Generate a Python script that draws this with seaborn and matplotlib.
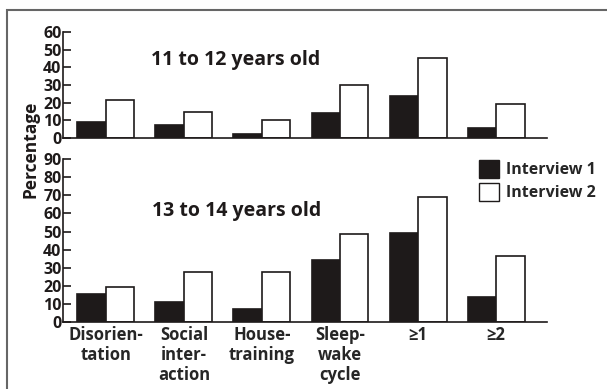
import matplotlib
matplotlib.use("Agg")
import matplotlib.pyplot as plt
import seaborn as sns
import pandas as pd
from matplotlib.patches import Patch, Rectangle

categories = ["Disorien-\ntation", "Social\ninter-\naction", "House-\ntraining", "Sleep-\nwake\ncycle", "\u22651", "\u22652"]
series = ["Interview 1", "Interview 2"]
young_int1 = [9, 7.5, 2.5, 14, 24, 5.5]
young_int2 = [21.5, 15, 10.5, 30, 45, 19]
old_int1 = [15.5, 11, 7, 34.5, 49, 14]
old_int2 = [19.5, 27.5, 27.5, 48.5, 69, 36.5]
young_ticks = [0, 10, 20, 30, 40, 50, 60]
old_ticks = [0, 10, 20, 30, 40, 50, 60, 70, 80, 90]

sns.set_theme(style="white")
plt.rcParams['font.family'] = ['Open Sans', 'DejaVu Sans']
plt.rcParams['font.weight'] = 'semibold'

def frame(v1, v2):
    return pd.DataFrame({
        "category": categories * 2,
        "interview": [series[0]] * len(categories) + [series[1]] * len(categories),
        "value": list(v1) + list(v2),
    })

fig = plt.figure(figsize=(6.07, 3.89), dpi=100)
fig.patch.set_facecolor("white")
ax1 = fig.add_axes([0.1038, 0.645, 0.797, 0.273])
ax2 = fig.add_axes([0.1038, 0.172, 0.797, 0.419])

palette = {series[0]: "#1e1a1a", series[1]: "white"}
for ax, (v1, v2), ticks, ymax in [(ax1, (young_int1, young_int2), young_ticks, 60),
                                  (ax2, (old_int1, old_int2), old_ticks, 90)]:
    sns.barplot(data=frame(v1, v2), x="category", y="value", hue="interview",
                palette=palette, width=0.73, edgecolor="#1e1a1a", linewidth=1.2,
                ax=ax, legend=False, saturation=1)
    ax.set_xlim(-0.55, 5.65)
    ax.set_ylim(0, ymax)
    ax.set_yticks(ticks)
    ax.set_yticklabels([str(t) for t in ticks], fontsize=11.5, fontweight='bold')
    ax.tick_params(axis='y', direction='in', length=6, width=1.2, pad=1.0, colors="#1e1a1a", left=True)
    ax.tick_params(axis='x', length=0)
    ax.set_xlabel("")
    ax.set_ylabel("")
    for s in ["top", "right"]:
        ax.spines[s].set_visible(False)
    for s in ["left", "bottom"]:
        ax.spines[s].set_color("#1e1a1a")
        ax.spines[s].set_linewidth(1.2)
    ax.set_facecolor("none")

ax1.set_xticks(range(len(categories)))
ax1.set_xticklabels([])
ax2.set_xticks(range(len(categories)))
ax2.set_xticklabels(categories, fontsize=12, fontweight='bold', linespacing=1.15, va='top')
ax2.tick_params(axis='x', pad=3)

ax1.text(0.181, 0.74, "11 to 12 years old", transform=ax1.transAxes, fontsize=14,
         fontweight='bold', va='center', ha='left', color="#1e1a1a")
ax2.text(0.184, 0.68, "13 to 14 years old", transform=ax2.transAxes, fontsize=14,
         fontweight='bold', va='center', ha='left', color="#1e1a1a")

fig.text(0.05, 0.615, "Percentage", rotation=90, fontsize=12.5, fontweight='bold',
         va='center', ha='center', color="#1e1a1a")

handles = [Patch(facecolor="#1e1a1a", edgecolor="#1e1a1a", linewidth=1.0, label=series[0]),
           Patch(facecolor="white", edgecolor="#1e1a1a", linewidth=1.0, label=series[1])]
fig.legend(handles=handles, loc="upper left", bbox_to_anchor=(0.765, 0.625), frameon=False,
           prop={'size': 11.5, 'weight': 'bold'}, handlelength=1.3, handleheight=1.3,
           handletextpad=0.4, labelspacing=0.3)

fig.add_artist(Rectangle((7 / 607, -0.05), 1.0, 1 - 10 / 389 + 0.05, transform=fig.transFigure,
                         fill=False, edgecolor="#666666", linewidth=1.5))

fig.savefig("out.png", dpi=100)
